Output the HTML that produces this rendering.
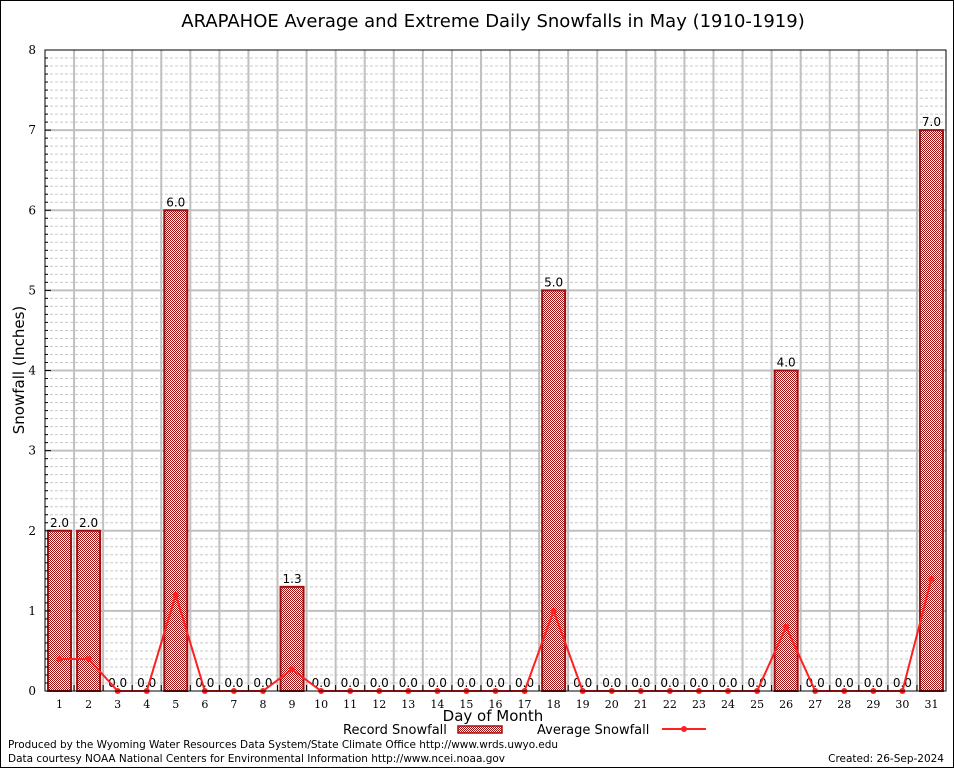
<!DOCTYPE html>
<html><head><meta charset="utf-8"><style>
body{margin:0;background:#fff}
svg{display:block;font-family:"DejaVu Sans","Liberation Sans",sans-serif}
</style></head><body>
<svg id="c" width="954" height="768">
<defs><pattern id="pat" width="2" height="2" patternUnits="userSpaceOnUse"><rect width="2" height="2" fill="#fff"/><rect width="1" height="1" fill="#a01010"/><rect x="1" y="1" width="1" height="1" fill="#a01010"/></pattern></defs>
<rect x="0.5" y="0.5" width="953" height="767" fill="#fff" stroke="#000"/>
<text x="493" y="27" font-size="18" text-anchor="middle">ARAPAHOE Average and Extreme Daily Snowfalls in May (1910-1919)</text>
<g id="grid"></g><g id="bars"></g><g id="line"></g><g id="axes"></g>
<text transform="translate(24,370) rotate(-90)" font-size="15" text-anchor="middle">Snowfall (Inches)</text>
<text x="493" y="721" font-size="15" text-anchor="middle">Day of Month</text>
<g font-size="13">
<text x="343" y="734">Record Snowfall</text>
<rect x="458" y="726" width="44" height="7" fill="url(#pat)" stroke="#a01010" stroke-width="1.5"/>
<text x="537" y="734">Average Snowfall</text>
<line x1="662" y1="729" x2="706" y2="729" stroke="#ff2020" stroke-width="2"/>
<circle cx="684" cy="729" r="3" fill="#ff2020"/>
</g>
<text x="8" y="748" font-size="10.5" textLength="550">Produced by the Wyoming Water Resources Data System/State Climate Office http://www.wrds.uwyo.edu</text>
<text x="8" y="762" font-size="10.5" textLength="497">Data courtesy NOAA National Centers for Environmental Information http://www.ncei.noaa.gov</text>
<text x="944" y="762" font-size="10.5" text-anchor="end">Created: 26-Sep-2024</text>
</svg>
<script>
const days=[1,2,3,4,5,6,7,8,9,10,11,12,13,14,15,16,17,18,19,20,21,22,23,24,25,26,27,28,29,30,31];
const recordVals=[2,2,0,0,6,0,0,0,1.3,0,0,0,0,0,0,0,0,5,0,0,0,0,0,0,0,4,0,0,0,0,7];
const avgVals=[0.4,0.4,0,0,1.2,0,0,0,0.27,0,0,0,0,0,0,0,0,1.0,0,0,0,0,0,0,0,0.8,0,0,0,0,1.4];
const yTicks=[0,1,2,3,4,5,6,7,8];
const L=45,R=946,T=50,B=691,YMAX=8;
const bw=(R-L)/days.length;
const x=d=>L+(d-0.5)*bw;
const y=v=>B-v/YMAX*(B-T);
const NS='http://www.w3.org/2000/svg';
function mk(p,t,a){const e=document.createElementNS(NS,t);for(const k in a)e.setAttribute(k,a[k]);document.getElementById(p).appendChild(e);return e;}
for(let i=1;i<YMAX*10;i++){const v=i/10;const g=mk('grid','line',{x1:L,x2:R,y1:y(v),y2:y(v),stroke:i%10?'#c8c8c8':'#c0c0c0','stroke-width':i%10?1:2,'stroke-dasharray':i%10?'3,2':'none'});

}
for(let i=1;i<days.length;i++){const g=mk('grid','line',{x1:L+i*bw,x2:L+i*bw,y1:T,y2:B,stroke:'#c0c0c0','stroke-width':2});

}
days.forEach((d,i)=>{const v=recordVals[i];
if(v>0){const r=mk('bars','rect',{x:x(d)-11.5,y:y(v),width:23,height:B-y(v),fill:'url(#pat)',stroke:'#a01010','stroke-width':2});

}
const t=mk('bars','text',{x:x(d),y:y(v)-4,'font-size':12,'text-anchor':'middle'});t.textContent=v.toFixed(1);

});
const pl=mk('line','polyline',{points:days.map((d,i)=>x(d)+','+y(avgVals[i])).join(' '),fill:'none',stroke:'#ff2020','stroke-width':2});


days.forEach((d,i)=>{const c=mk('line','circle',{cx:x(d),cy:y(avgVals[i]),r:3,fill:'#ff2020'});

});
const fr=mk('axes','rect',{x:L,y:T,width:R-L,height:B-T,fill:'none',stroke:'#000','stroke-width':1});


for(let i=0;i<=YMAX*10;i++){const tk=mk('axes','line',{x1:L,x2:L+(i%10?3:6),y1:y(i/10),y2:y(i/10),stroke:'#000'});

}
yTicks.forEach(v=>{const t=mk('axes','text',{x:L-9,y:y(v)+4,'font-size':12,'text-anchor':'end','font-family':'DejaVu Serif,Liberation Serif,serif'});t.textContent=v;

});
days.forEach(d=>{const tk=mk('axes','line',{x1:L+d*bw,x2:L+d*bw,y1:B,y2:B-6,stroke:'#000'});


const t=mk('axes','text',{x:x(d),y:B+17,'font-size':11,'text-anchor':'middle','font-family':'DejaVu Serif,Liberation Serif,serif'});t.textContent=d;

});
</script>
</body></html>
